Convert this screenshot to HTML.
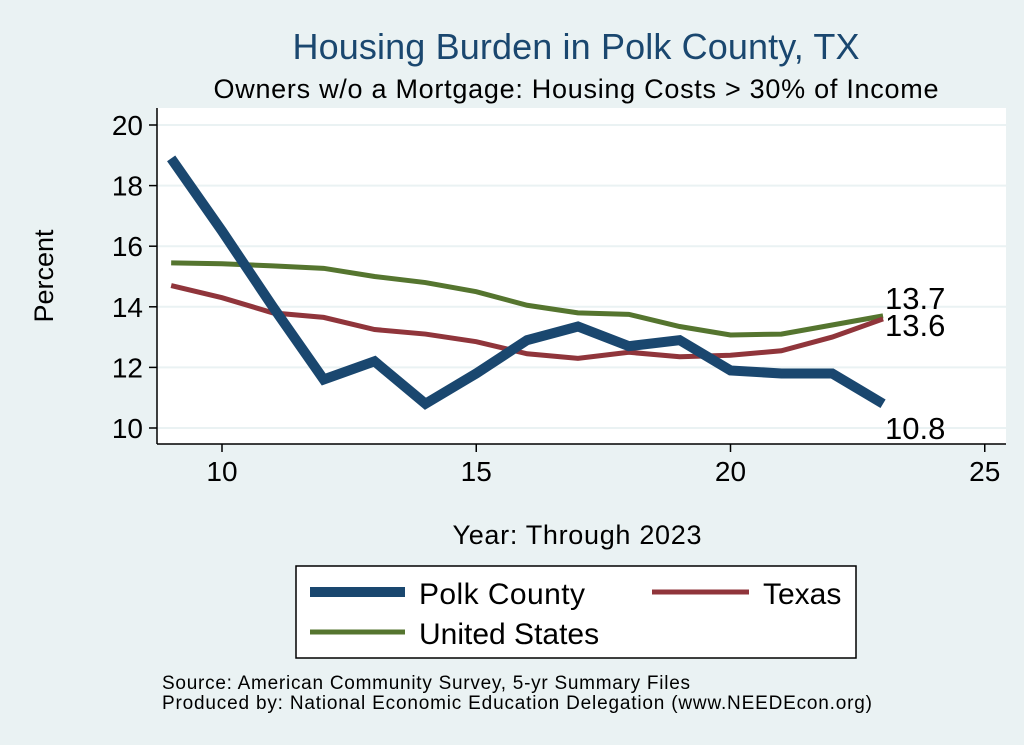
<!DOCTYPE html>
<html><head><meta charset="utf-8"><style>
body{margin:0;background:#eaf2f3;}
svg{display:block;font-family:"Liberation Sans",sans-serif;}
</style></head><body>
<svg id="c" width="1024" height="745">
<rect width="1024" height="745" fill="#eaf2f3"/>
<text x="576" y="59" text-anchor="middle" font-size="36" fill="#1a476f" textLength="567">Housing Burden in Polk County, TX</text>
<text x="576" y="98" text-anchor="middle" font-size="27" fill="#000" textLength="725">Owners w/o a Mortgage: Housing Costs &gt; 30% of Income</text>
<rect x="157" y="108" width="849" height="336" fill="#fff"/>
<g id="grid"></g>
<g id="axes"></g>
<g id="series"></g>
<text x="53" y="276" text-anchor="middle" font-size="27" transform="rotate(-90 53 276)">Percent</text>
<text x="577" y="544" text-anchor="middle" font-size="27" textLength="249">Year: Through 2023</text>
<g>
<rect x="296" y="566" width="560" height="92" fill="#fff" stroke="#000" stroke-width="1.5"/>
<line x1="310" y1="592" x2="405" y2="592" stroke="#1a476f" stroke-width="10"/>
<text x="419" y="604" font-size="30" textLength="166">Polk County</text>
<line x1="652" y1="592" x2="749" y2="592" stroke="#90353b" stroke-width="5"/>
<text x="763" y="604" font-size="30">Texas</text>
<line x1="310" y1="632" x2="405" y2="632" stroke="#55752f" stroke-width="5"/>
<text x="419" y="644" font-size="30">United States</text>
</g>
<text x="162" y="689" font-size="19" textLength="528">Source: American Community Survey, 5-yr Summary Files</text>
<text x="162" y="709" font-size="19" textLength="710">Produced by: National Economic Education Delegation (www.NEEDEcon.org)</text>
</svg>
<script>
const years=[9,10,11,12,13,14,15,16,17,18,19,20,21,22,23];
const polk=[18.9,16.5,14.0,11.6,12.2,10.8,11.8,12.9,13.35,12.7,12.9,11.9,11.8,11.8,10.8];
const texas=[14.7,14.3,13.8,13.65,13.25,13.1,12.85,12.45,12.3,12.5,12.35,12.4,12.55,13.0,13.6];
const us=[15.45,15.42,15.35,15.27,15.0,14.8,14.5,14.05,13.8,13.75,13.35,13.07,13.1,13.4,13.7];
const yTicks=[10,12,14,16,18,20];
const xTicks=[10,15,20,25];
const endLabels=["10.8","13.6","13.7"];
const NS="http://www.w3.org/2000/svg";
const x=v=>222+(v-10)*50.85;
const y=v=>428-(v-10)*30.3;
function mk(tag,attrs,parent,text){const e=document.createElementNS(NS,tag);for(const k in attrs)e.setAttribute(k,attrs[k]);if(text!==undefined)e.textContent=text;document.getElementById(parent).appendChild(e);return e;}
yTicks.forEach(t=>{
 const g=mk('line',{x1:157,x2:1006,y1:y(t),y2:y(t),stroke:'#eaf2f3','stroke-width':2},'grid');
 
 
 const tk=mk('line',{x1:149,x2:157,y1:y(t),y2:y(t),stroke:'#000','stroke-width':1.5},'axes');
 
 
 const l=mk('text',{x:143,y:y(t)+10,'text-anchor':'end','font-size':28},'axes',String(t));
 
 
});
xTicks.forEach(t=>{
 const tk=mk('line',{x1:x(t),x2:x(t),y1:444,y2:452,stroke:'#000','stroke-width':1.5},'axes');
 
 
 const l=mk('text',{x:x(t),y:481,'text-anchor':'middle','font-size':28},'axes',String(t));
 
 
});
const ya=mk('line',{x1:157,x2:157,y1:108,y2:444,stroke:'#000','stroke-width':1.5},'axes');


const xa=mk('line',{x1:157,x2:1006,y1:444,y2:444,stroke:'#000','stroke-width':1.5},'axes');


function line(data,color,w,name){
 const p=mk('polyline',{points:years.map((yr,i)=>x(yr)+','+y(data[i])).join(' '),fill:'none',stroke:color,'stroke-width':w,'stroke-linejoin':'miter'},'series');
 
 
}
line(us,'#55752f',5,'line-united-states');
line(texas,'#90353b',5,'line-texas');
line(polk,'#1a476f',10,'line-polk-county');
const last=years.length-1;
[[polk,endLabels[0],'label-polk-end',25],[texas,endLabels[1],'label-texas-end',7],[us,endLabels[2],'label-us-end',-17]].forEach(([d,t,n,dy])=>{
 const e=mk('text',{x:x(years[last])+2,y:y(d[last])+dy+10,'font-size':31},'series',t);
 
 
});
</script>
</body></html>
